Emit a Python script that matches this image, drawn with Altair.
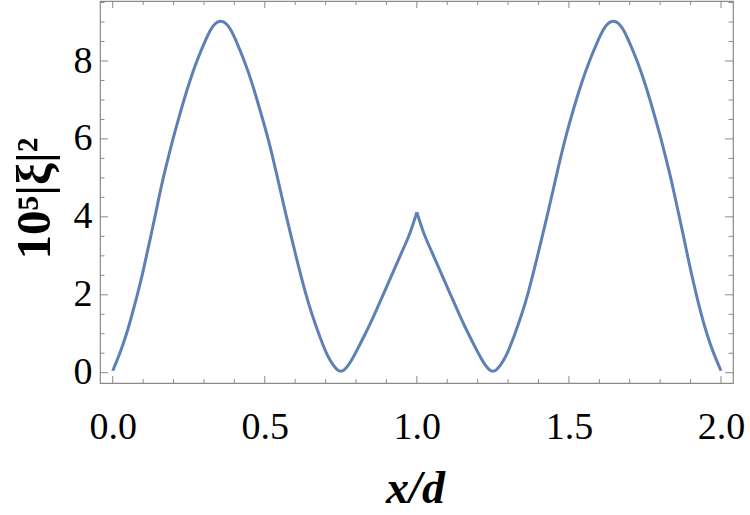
import altair as alt
import pandas as pd

# curve: left of the cusp and right of the cusp
x_left = [0.0, 0.024, 0.046, 0.064, 0.081, 0.097, 0.111, 0.125, 0.139, 0.152,
          0.166, 0.182, 0.198, 0.216, 0.234, 0.254, 0.276, 0.303, 0.323, 0.338,
          0.355, 0.372, 0.387, 0.407, 0.433, 0.458, 0.482, 0.512, 0.542, 0.571,
          0.602, 0.635, 0.655, 0.677, 0.702, 0.714, 0.726, 0.738, 0.75, 0.762,
          0.774, 0.786, 0.798, 0.831, 0.861, 0.889, 0.917, 0.945, 0.974, 0.988,
          1.0]
y_left = [0.05, 0.5, 1.0, 1.5, 2.0, 2.5, 3.0, 3.5, 4.0, 4.5,
          5.0, 5.5, 6.0, 6.5, 7.0, 7.5, 8.0, 8.5, 8.83, 8.98,
          9.04, 8.98, 8.83, 8.5, 8.0, 7.45, 6.8, 6.0, 5.0, 4.0,
          3.0, 2.0, 1.5, 1.0, 0.5, 0.33, 0.18, 0.07, 0.02, 0.07,
          0.18, 0.33, 0.5, 1.0, 1.5, 2.0, 2.5, 3.0, 3.5, 3.82,
          4.12]
x_right = [1.0, 1.012, 1.026, 1.055, 1.083, 1.111, 1.139, 1.169, 1.202, 1.214,
           1.226, 1.238, 1.25, 1.262, 1.274, 1.286, 1.298, 1.323, 1.345, 1.365,
           1.397, 1.428, 1.457, 1.487, 1.516, 1.542, 1.567, 1.594, 1.614, 1.629,
           1.646, 1.663, 1.678, 1.698, 1.725, 1.747, 1.767, 1.785, 1.803, 1.819,
           1.835, 1.849, 1.863, 1.877, 1.890, 1.904, 1.919, 1.935, 1.953, 1.975,
           2.0]
y_right = [4.12, 3.82, 3.5, 3.0, 2.5, 2.0, 1.5, 1.0, 0.5, 0.33,
           0.18, 0.07, 0.02, 0.07, 0.18, 0.33, 0.5, 1.0, 1.5, 2.0,
           3.0, 4.0, 5.0, 6.0, 6.8, 7.45, 8.0, 8.5, 8.83, 8.98,
           9.04, 8.98, 8.83, 8.5, 8.0, 7.5, 7.0, 6.5, 6.0, 5.5,
           5.0, 4.5, 4.0, 3.5, 3.0, 2.5, 2.0, 1.5, 1.0, 0.5,
           0.05]

x_major = [0.0, 0.5, 1.0, 1.5, 2.0]
x_minor = [0.1, 0.2, 0.3, 0.4, 0.6, 0.7, 0.8, 0.9, 1.1, 1.2, 1.3, 1.4,
           1.6, 1.7, 1.8, 1.9]
y_major = [0, 2, 4, 6, 8]
y_minor = [0.5, 1, 1.5, 2.5, 3, 3.5, 4.5, 5, 5.5, 6.5, 7, 7.5, 8.5, 9, 9.5]

x_title = "x/d"
y_title = "10⁵|ξ|²"

W, H = 633, 382
FRAME = "#8a8a8a"
FONT = "Liberation Serif"

curve = pd.DataFrame({
    "x": x_left + x_right,
    "y": y_left + y_right,
    "seg": ["a"] * len(x_left) + ["b"] * len(x_right),
})

xs = alt.Scale(domain=[-0.0418, 2.0395], nice=False, zero=False)
ys = alt.Scale(domain=[-0.264, 9.54], nice=False, zero=False)

x_axis = alt.Axis(
    values=x_major, format=".1f", ticks=False, tickSize=0, domain=False,
    grid=False, labelFont=FONT, labelFontSize=38, labelColor="black",
    labelPadding=25, labelFlush=False, labelOverlap=False,
    title=x_title, titleFont=FONT, titleFontSize=46, titleFontWeight="bold",
    titleFontStyle="italic", titleColor="black", titleX=315, titleY=119,
    titleAlign="center", titleBaseline="alphabetic")
y_axis = alt.Axis(
    values=y_major, format="d", ticks=False, tickSize=0, domain=False,
    grid=False, labelFont=FONT, labelFontSize=38, labelColor="black",
    labelPadding=8, labelFlush=False, labelOverlap=False,
    title=y_title, titleFont=FONT, titleFontSize=49, titleFontWeight="bold",
    titleColor="black", titleAngle=270, titleX=-66, titleY=197,
    titleAlign="center", titleBaseline="middle")

line = alt.Chart(curve).mark_line(
    color="#5E81B5", strokeWidth=3, interpolate="basis"
).encode(
    x=alt.X("x:Q", scale=xs, axis=x_axis),
    y=alt.Y("y:Q", scale=ys, axis=y_axis),
    detail="seg:N",
)


def xticks(vals, length):
    df = pd.DataFrame({"x": vals})
    base = alt.Chart(df).mark_rule(color=FRAME, strokeWidth=1)
    bottom = base.encode(x=alt.X("x:Q", scale=xs, axis=x_axis),
                         y=alt.value(H), y2=alt.value(H - length))
    top = base.encode(x=alt.X("x:Q", scale=xs, axis=x_axis),
                      y=alt.value(0), y2=alt.value(length))
    return [bottom, top]


def yticks(vals, length):
    df = pd.DataFrame({"y": vals})
    base = alt.Chart(df).mark_rule(color=FRAME, strokeWidth=1)
    left = base.encode(y=alt.Y("y:Q", scale=ys, axis=y_axis),
                       x=alt.value(0), x2=alt.value(length))
    right = base.encode(y=alt.Y("y:Q", scale=ys, axis=y_axis),
                        x=alt.value(W), x2=alt.value(W - length))
    return [left, right]


layers = [line] + xticks(x_major, 7) + xticks(x_minor, 4) + yticks(y_major, 8) + yticks(y_minor, 4.5)

chart = alt.layer(*layers).properties(
    width=W, height=H,
    autosize=alt.AutoSizeParams(type="none"),
    padding={"left": 100, "top": 1, "right": 17, "bottom": 132},
).configure_view(stroke=FRAME, strokeWidth=1.2)

chart.save("out.html", embed_options={"renderer": "svg", "actions": False})
